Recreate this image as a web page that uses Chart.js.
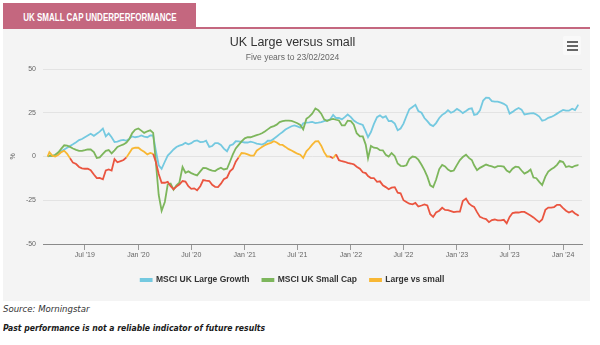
<!DOCTYPE html>
<html><head><meta charset="utf-8">
<script src="https://cdn.jsdelivr.net/npm/chart.js@4.4.1/dist/chart.umd.min.js"></script>
<style>
html,body{margin:0;padding:0;}
body{width:600px;height:345px;background:#fff;position:relative;overflow:hidden;font-family:"Liberation Sans",Arial,sans-serif;}
#tab{position:absolute;left:3px;top:3px;width:193px;height:25px;background:#c4677f;color:#fff;line-height:25px;text-align:center;white-space:nowrap;}
#tab span{display:inline-block;font-weight:bold;font-size:10px;font-family:"Liberation Sans",Arial,sans-serif;transform:scaleX(0.8);}
#rule{position:absolute;left:3px;top:27px;width:587px;height:2px;background:#c4677f;}
#panel{position:absolute;left:3px;top:29px;width:587px;height:272px;background:#f4f4f4;}
#c{position:absolute;left:3px;top:29px;}
#menu{position:absolute;left:563px;top:36px;width:18px;height:19px;background:#f9f9f9;border-radius:2px;}
#menu span{position:absolute;left:4px;width:11px;height:2px;background:#666;}
.note{position:absolute;left:3px;font-style:italic;font-size:9.5px;font-family:"Liberation Sans Narrow","DejaVu Sans Condensed","Liberation Sans",sans-serif;white-space:nowrap;transform-origin:0 0;}
</style></head>
<body>
<div id="tab"><span>UK SMALL CAP UNDERPERFORMANCE</span></div>
<div id="rule"></div>
<div id="panel"></div>
<canvas id="c" width="587" height="272"></canvas>
<div id="menu"><span style="top:5px"></span><span style="top:9px"></span><span style="top:13px"></span></div>
<div class="note" style="top:303px;color:#333;">Source: Morningstar</div>
<div class="note" style="top:322px;color:#1a1a1a;font-weight:bold;transform:scaleX(0.9);">Past performance is not a reliable indicator of future results</div>
<script>
// ---- data (percent) ----
const startDate = '2019-02-23';
const endDate = '2024-02-23';
const firstMonth = [2019, 3];
const lastMonth = [2024, 2];
const sampleDays = [1, 11, 21];

const seriesNames = ['MSCI UK Large Growth', 'MSCI UK Small Cap', 'Large vs small'];

const largeGrowth = [
0,
0.3,0.5,0.5, 2,3,4, 5,6,7, 8.2,9.4,10, 11,12,13, 11.8,13,14.2, 16,11.5,13.2, 11,8.3,8.5, 9.2,9.5,9, 10.2,11.5,11,
11.3,12,11.4, 11,12,12, 3.5,-5,-7, -3,0.5,2.2, 4,5.4,6.2, 6.8,7.8,7, 7.6,8.8,9.2, 8.2,8.3,9, 5.5,6,7.6, 7.6,6.6,4.5, 3,6.3,6.9, 8.7,8.6,8.4,
8,8,8.5, 8,7.4,7.1, 6.8,7.5,9, 9,10.2,11.4, 12.8,14,15.4, 16.4,17.3,17.8, 17.2,16.5,19, 19.3,19.5,19.8, 19.1,19.3,19.6, 20.2,20.7,21, 23.8,22,22, 21.2,22.5,24,
22.5,20.5,19.4, 18.6,18,14.4, 11,14,18.5, 22.5,23.5,22.2, 23,20.2,20.3, 18.8,15,16, 18.8,23,27, 28.3,29.5,26, 25,22,20.2, 18.2,17.4,19.1, 22,23.8,24.8, 26.5,25,25.7,
27.2,26.2,24.8, 26,27.2,27.5, 23.8,24.2,26.4, 32,33.6,33.5, 31.6,31.4,31.4, 30.8,30.1,29, 24.5,25.5,26.7, 27.7,26.8,24, 24.4,24.6,24.8, 24,22.8,20.4, 21,22.1,22.6, 23.4,24.5,25.6,
26.6,26.2,26.2, 27.3,26.5,29.2,
29
];

const smallCap = [
0,
0.5,0.2,1, 2.4,4.5,6.4, 6.2,5.5,4.6, 3.8,3.2,3.2, 3.6,4.1,4, 2.5,-0.8,-0.5, 1.5,3.2,3.7, 1.8,3.5,5.5, 6.3,6.9,8, 10,13.4,15.3,
16,14.8,13.5, 14.4,15,13.5, -3,-22,-31, -26,-16,-15.5, -19,-16.5,-15, -6,-9.3,-8.5, -9.5,-10.2,-10.8, -8.5,-6.5,-6.7, -7.5,-8.1,-8.3, -7.2,-6.4,-7.4, -7,-3,1.2, 4.6,6.6,8.6,
10.4,11,11, 11.6,12.2,12.7, 13.3,14.3,15.5, 16.8,17.4,18.2, 19.7,20.2,20.5, 20.5,20.3,19.7, 19,18,15.5, 21.5,22.8,24.5, 27.5,26.5,24.5, 21.2,20.3,21.1, 21.5,21,20.6, 17.8,17.8,20.5,
20.2,18.2,13.3, 11.5,11.5,6.8, -1,6,5, 4.8,3.6,3.5, 1,0,2, 0.2,-4,-5.3, -5.5,-5,-1.5, 0,-0.3,-1.8, -4.7,-7.8,-11.5, -16.5,-17.5,-13.3, -7.2,-4.8,-5.7, -7.5,-8.4,-8,
-4.8,-2,-0.3, 1,-0.8,-2, -5,-7.8,-6.5, -5.5,-4.6,-5.2, -5.7,-6.3,-5.5, -5.5,-5.8,-8, -9,-7,-5.8, -6,-8,-9.8, -8.8,-7.4,-12, -12.4,-14.5,-16.3, -11.5,-8.6,-7.3, -6.3,-4.8,-2.5,
-3.2,-6,-5.5, -6.2,-5.3,-4.9,
-5
];

const largeVsSmall = [
0,
2.5,0.5,0, 1,2.5,3.3, 1.5,-1,-3.5, -4.3,-6,-6.8, -7,-7,-7.8, -10.3,-12.3,-12.2, -13,-8,-7.4, -8,-1.5,-3.3, -2.6,-2,-0.5, 2,4.5,5,
5,3.7,2.7, 1.2,2,1.5, -3,-10,-15, -15,-14.5,-17, -18.7,-17.2,-16, -14,-14.3,-17, -18.5,-18.2,-19.3, -17,-13.5,-13.8, -14,-16.2,-17.3, -17.5,-15.5,-13, -12,-8.5,-7, -3,-0.5,2,
1.8,1.2,0.5, 0.5,3.3,4.5, 5.4,6.4,7.2, 7.8,8.7,8, 6.8,6.6,5.5, 4.2,3.4,2.5, 1.6,1,-0.8, 3,4.7,6.8, 8.6,8.8,6.2, 2.5,0,0, -1,1.2,-2.1, -2.7,-3,-3.6,
-4,-4.5,-5.8, -7,-9,-9.5, -11.2,-12.3,-12.3, -14.5,-14.2,-16.5, -17.5,-18.7,-17.8, -17.5,-20.7,-21, -25,-26,-27, -27.3,-26.5,-28.6, -28,-27.4,-28, -33,-34.5,-32, -31,-29.3,-30.5, -30.7,-31.2,-31.8,
-31.5,-31.5,-25.4, -24,-26.8,-28.2, -28.8,-31.8,-34.5, -35.3,-35.8,-37.5, -36.3,-36,-36.5, -36.5,-36.2,-38.2, -34.5,-32.3,-32, -32,-31.6,-31.7, -32.7,-33.7,-34.8, -36.2,-37.5,-36, -30.5,-29.2,-29.2, -28.9,-27.6,-27.7,
-29.5,-31,-32, -31.2,-32.6,-33.5,
-34
];

const tickDates = ['2019-07-01','2020-01-01','2020-07-01','2021-01-01','2021-07-01','2022-01-01','2022-07-01','2023-01-01','2023-07-01','2024-01-01'];
const tickLabels = ["Jul '19","Jan '20","Jul '20","Jan '21","Jul '21","Jan '22","Jul '22","Jan '23","Jul '23","Jan '24"];
const yTicks = [-50, -25, 0, 25, 50];
const axisStart = '2019-02-07';
const axisEnd = '2024-03-06';

// ---- helpers ----
function dayNum(s){ const p = s.split('-').map(Number); return Date.UTC(p[0], p[1]-1, p[2]) / 86400000; }
const xDays = [dayNum(startDate)];
{
  let y = firstMonth[0], m = firstMonth[1];
  while (y < lastMonth[0] || (y === lastMonth[0] && m <= lastMonth[1])) {
    for (const d of sampleDays) xDays.push(Date.UTC(y, m-1, d) / 86400000);
    m++; if (m > 12) { m = 1; y++; }
  }
}
xDays.push(dayNum(endDate));
const pts = arr => arr.map((v, i) => ({x: xDays[i], y: v}));

const BLUE = '#74c9e0', GREEN = '#7db65c', ORANGE = '#f8b733', RED = '#ea5540';
Chart.defaults.font.family = '"Liberation Sans", Arial, sans-serif';

new Chart(document.getElementById('c'), {
  type: 'line',
  data: {
    datasets: [
      {label: seriesNames[0], data: pts(largeGrowth), borderColor: BLUE, backgroundColor: BLUE, order: 3},
      {label: seriesNames[1], data: pts(smallCap), borderColor: GREEN, backgroundColor: GREEN, order: 2},
      {label: seriesNames[2], data: pts(largeVsSmall), borderColor: ORANGE, backgroundColor: ORANGE, order: 1,
        segment: {borderColor: ctx => ((ctx.p0.parsed.y + ctx.p1.parsed.y) / 2 >= 0 ? ORANGE : RED)}}
    ]
  },
  options: {
    responsive: false,
    animation: false,
    events: [],
    elements: {point: {radius: 0}, line: {borderWidth: 1.8, tension: 0}},
    layout: {padding: {left: 0, right: 8, top: 0, bottom: 6.75}},
    scales: {
      x: {
        type: 'linear',
        min: dayNum(axisStart), max: dayNum(axisEnd),
        afterBuildTicks: s => { s.ticks = tickDates.map(d => ({value: dayNum(d)})); },
        afterFit: s => { s.height = 18.75; },
        ticks: {autoSkip: false, maxRotation: 0, padding: 1, color: '#666', font: {size: 7},
          callback: (v, i) => tickLabels[i]},
        grid: {display: true, drawOnChartArea: false, drawTicks: true, tickLength: 6, color: '#999'},
        border: {display: true, color: '#8a8a8a', width: 1}
      },
      y: {
        min: -50, max: 50,
        afterBuildTicks: s => { s.ticks = yTicks.map(v => ({value: v})); },
        afterFit: s => { s.width = 40; },
        ticks: {padding: 7, color: '#666', font: {size: 7}},
        grid: {color: '#e3e3e3', drawTicks: false},
        border: {display: false},
        title: {display: true, text: '%', color: '#666', font: {size: 7}, padding: {top: 6, bottom: 0}}
      }
    },
    plugins: {
      title: {display: true, text: 'UK Large versus small', color: '#333', font: {size: 12.5, weight: 'normal'}, padding: {top: 6, bottom: 2.4}},
      subtitle: {display: true, text: 'Five years to 23/02/2024', color: '#666', font: {size: 8.5}, padding: {top: 0, bottom: 6.4}},
      legend: {position: 'bottom',
        labels: {boxWidth: 11, boxHeight: 2, padding: 13, color: '#333', font: {size: 8.5, weight: 'bold'},
          sort: (a, b) => a.datasetIndex - b.datasetIndex}},
      tooltip: {enabled: false}
    }
  }
});
</script>
</body></html>
